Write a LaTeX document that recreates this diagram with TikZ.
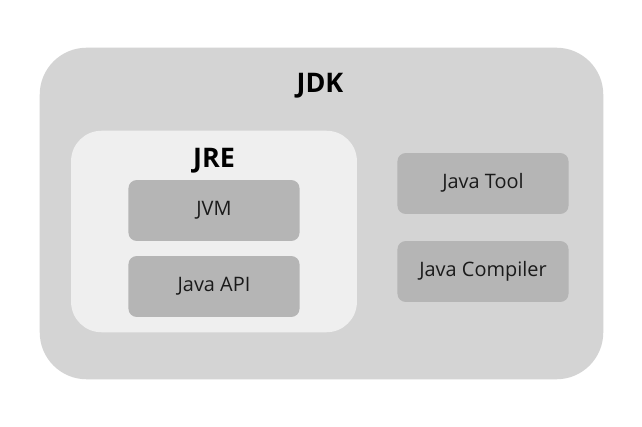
\documentclass[tikz,border=0pt]{standalone}
\usepackage{fontspec}
\setmainfont{Open Sans}
\usepackage{xcolor}
\usetikzlibrary{positioning}

\definecolor{jdkgray}{HTML}{D4D4D4}
\definecolor{jregray}{HTML}{EFEFEF}
\definecolor{partgray}{HTML}{B5B5B5}
\definecolor{textgray}{HTML}{1A1A1A}

\tikzset{
    part/.style={fill=partgray, rounded corners=7pt, minimum width=146pt,
        minimum height=52pt, text=textgray, font=\fontsize{17}{19}\selectfont,
        text height=0.85em, text depth=0pt, inner sep=0pt},
    title/.style={text=black, font=\fontsize{23}{26}\selectfont\bfseries, inner sep=0pt}
}

\begin{document}
\begin{tikzpicture}[x=0.03cm, y=-0.03cm]
    \useasboundingbox (0,0) rectangle (642,427);
    \fill[white] (0,0) rectangle (642,427);

    % JDK frame
    \node[fill=jdkgray, rounded corners=40pt, minimum width=481pt, minimum height=283pt, inner sep=0pt]
        (jdk) at (321.5,213.5) {};
    \node[title] (jdklabel) at (320,86) {JDK};

    % JRE frame
    \node[fill=jregray, rounded corners=26pt, minimum width=244pt, minimum height=172pt, inner sep=0pt]
        (jre) at (214,231.5) {};
    \node[title] (jrelabel) at (214,161) {JRE};

    % parts
    \node[part] (jvm) at (214,210.5) {JVM};
    \node[part] (api) at (214,286.5) {Java API};
    \node[part] (tool) at (483,183.5) {Java Tool};
    \node[part] (compiler) at (483,271.5) {Java Compiler};
\end{tikzpicture}
\end{document}
